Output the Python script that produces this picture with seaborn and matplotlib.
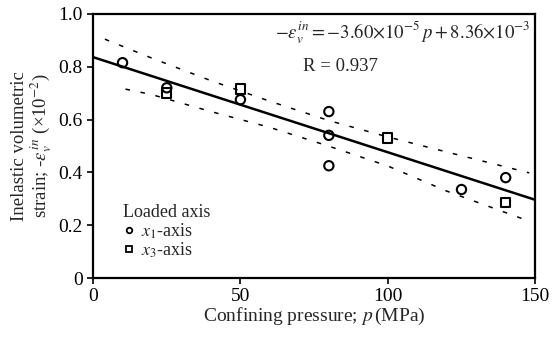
import pandas as pd
import matplotlib.pyplot as plt
import seaborn as sns

# measured points (strain in 1e-2)
x1_p = [10, 25, 50, 80, 80, 80, 125, 140]
x1_strain = [0.815, 0.72, 0.675, 0.63, 0.54, 0.425, 0.335, 0.38]
x3_p = [25, 50, 100, 140]
x3_strain = [0.70, 0.715, 0.53, 0.285]

# regression line end points
fit_p = [0, 150]
fit_strain = [0.836, 0.296]

# confidence bands (dashed)
upper_p = [4, 20, 40, 60, 80, 100, 120, 148]
upper_strain = [0.904, 0.832, 0.747, 0.669, 0.596, 0.534, 0.477, 0.398]
lower_p = [11, 20, 40, 60, 80, 100, 120, 148]
lower_strain = [0.715, 0.694, 0.630, 0.570, 0.499, 0.424, 0.329, 0.215]

xticks = [0, 50, 100, 150]
yticks = [0, 0.2, 0.4, 0.6, 0.8, 1.0]
ytick_labels = ['0', '0.2', '0.4', '0.6', '0.8', '1.0']

sns.set_style('ticks')
plt.rcParams['font.family'] = ['Liberation Serif', 'DejaVu Serif']
plt.rcParams['mathtext.fontset'] = 'stix'

df = pd.concat([
    pd.DataFrame({'p': x1_p, 'strain': x1_strain, 'axis': r'$x_1$-axis'}),
    pd.DataFrame({'p': x3_p, 'strain': x3_strain, 'axis': r'$x_3$-axis'}),
], ignore_index=True)

fig = plt.figure(figsize=(5.54, 3.37), dpi=100)
ax = fig.add_axes([0.168, 0.175, 0.798, 0.784])

sns.lineplot(x=fit_p, y=fit_strain, color='black', lw=1.8, ax=ax)
sns.lineplot(x=upper_p, y=upper_strain, color='black', lw=1.1,
             linestyle=(0, (3, 7)), ax=ax)
sns.lineplot(x=lower_p, y=lower_strain, color='black', lw=1.1,
             linestyle=(0, (3, 7)), ax=ax)

sns.scatterplot(data=df, x='p', y='strain', style='axis',
                markers={r'$x_1$-axis': 'o', r'$x_3$-axis': 's'},
                s=45, facecolors='none', edgecolor='black', linewidth=1.5,
                legend=False, ax=ax)

# legend
h1 = plt.Line2D([], [], marker='o', ls='none', mfc='white', mec='black', ms=4, mew=1.3)
h3 = plt.Line2D([], [], marker='s', ls='none', mfc='white', mec='black', ms=5, mew=1.3)
leg = ax.legend([h1, h3], [r'$x_1$-axis', r'$x_3$-axis'], title='Loaded axis',
                loc='lower left', bbox_to_anchor=(0.04, 0.02), frameon=False,
                fontsize=13, title_fontsize=13, handlelength=0.6, handletextpad=0.4,
                labelspacing=0.0, borderpad=0.2)
leg._legend_box.align = 'left'

ax.text(0.99, 0.93, r'$-\varepsilon_v^{in} = -3.60{\times}10^{-5}\,p + 8.36{\times}10^{-3}$',
        transform=ax.transAxes, ha='right', va='center', fontsize=13.5)
ax.text(0.475, 0.80, 'R = 0.937', transform=ax.transAxes, ha='left', va='center',
        fontsize=13.5)

ax.set_xlim(0, 150)
ax.set_ylim(0, 1.0)
ax.set_xticks(xticks)
ax.set_yticks(yticks)
ax.set_yticklabels(ytick_labels)
ax.tick_params(labelsize=14, length=4, width=1.2, color='black', labelcolor='black')
for s in ax.spines.values():
    s.set_linewidth(1.6)
    s.set_color('black')

ax.set_xlabel(r'Confining pressure; $p\,$(MPa)', fontsize=14, labelpad=0)
ax.set_ylabel('Inelastic volumetric\n' + r'strain; -$\varepsilon_v^{\,in}$ (×10$^{-2}$)',
              fontsize=13.5, labelpad=3, linespacing=1.0)

fig.savefig('out.png', dpi=100)
plt.close()
